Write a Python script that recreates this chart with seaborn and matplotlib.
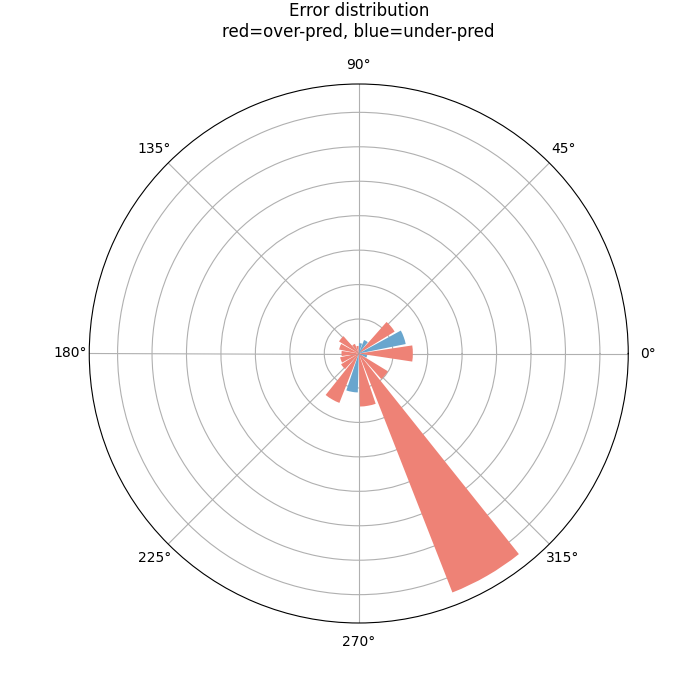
import numpy as np
import pandas as pd
import matplotlib
matplotlib.use("Agg")
import matplotlib.pyplot as plt
import seaborn as sns

# Data: bin angles (degrees) and signed errors (positive = over-prediction)
angles_deg = [0, 20, 40, 60, 80, 100, 120, 140, 160, 180,
              200, 220, 240, 260, 280, 300, 320, 340]
errors = [1.57, -1.39, 1.22, -0.42, -0.30, 0.22, 0.30, 0.67, 0.58, 0.50,
          0.55, 0.60, 1.54, -1.13, 1.54, 7.45, 0.99, -0.25]
title_text = "Error distribution\nred=over-pred, blue=under-pred"

RED = "#ee8276"
BLUE = "#69a6ce"

df = pd.DataFrame({
    "theta": np.deg2rad(angles_deg),
    "mag": np.abs(errors),
    "kind": ["over" if e > 0 else "under" for e in errors],
})

fig = plt.figure(figsize=(7, 7), dpi=100)
ax = fig.add_subplot(111, projection="polar")

sns.barplot(data=df, x="theta", y="mag", hue="kind",
            palette={"over": RED, "under": BLUE},
            native_scale=True, dodge=False, errorbar=None,
            width=0.86, legend=False, ax=ax, linewidth=0, saturation=1)

ax.set_xlabel("")
ax.set_ylabel("")
ax.set_ylim(0, df["mag"].max() * 1.05)
ax.set_xticks(np.deg2rad(np.arange(0, 360, 45)))
ax.set_xticklabels([f"{a}\u00b0" for a in range(0, 360, 45)])
ax.set_yticks(np.arange(1, 8, 1))
ax.set_yticklabels([])
ax.grid(True, color="#b0b0b0", linewidth=0.8)
ax.set_axisbelow(True)
ax.set_title(title_text, fontsize=12, pad=15)

fig.savefig("out.png", dpi=100)
